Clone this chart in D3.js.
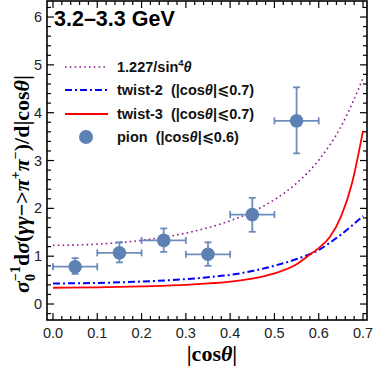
<!DOCTYPE html>
<html>
<head>
<meta charset="utf-8">
<script src="https://cdn.jsdelivr.net/npm/d3@7"></script>
<style>
  body { margin: 0; background: #fff; }
  svg { display: block; }
  text { white-space: pre; }
</style>
</head>
<body>
<div id="chart"></div>
<script>
// pion data points (|cos theta| bin centres)
var pionX = [0.05, 0.15, 0.25, 0.35, 0.45, 0.55];
var pionY = [0.78, 1.07, 1.33, 1.04, 1.87, 3.83];
var pionLo = [0.63, 0.87, 1.09, 0.80, 1.51, 3.15];
var pionHi = [0.96, 1.29, 1.58, 1.29, 2.22, 4.53];
var pionXErr = [0.05, 0.05, 0.05, 0.05, 0.05, 0.05];

// curves
var sinCos = [0, 0.05, 0.1, 0.15, 0.2, 0.25, 0.3, 0.35, 0.4, 0.45, 0.5, 0.55, 0.6, 0.65, 0.7];
var sinVal = [1.227, 1.233, 1.252, 1.284, 1.331, 1.397, 1.483, 1.595, 1.740, 1.928, 2.181, 2.526, 3.008, 3.705, 4.717];

var tw2Cos = [0, 0.1, 0.2, 0.3, 0.35, 0.4, 0.45, 0.5, 0.55, 0.6, 0.625, 0.65, 0.7];
var tw2Val = [0.43, 0.44, 0.47, 0.52, 0.56, 0.61, 0.69, 0.80, 0.94, 1.13, 1.28, 1.45, 1.84];

var tw3Cos = [0, 0.1, 0.2, 0.3, 0.35, 0.4, 0.45, 0.5, 0.55, 0.575, 0.6, 0.625, 0.65, 0.675, 0.7];
var tw3Val = [0.34, 0.35, 0.37, 0.40, 0.43, 0.47, 0.53, 0.64, 0.83, 1.00, 1.17, 1.40, 1.82, 2.52, 3.62];

var xTicks = [0, 0.1, 0.2, 0.3, 0.4, 0.5, 0.6, 0.7];
var yTicks = [0, 1, 2, 3, 4, 5, 6];

(function() {
  var W = 374, H = 374;
  var pl = 47, pr = 367, pt = 1, pb = 320;

  var svg = d3.select('#chart').append('svg')
      .attr('width', W).attr('height', H);

  var x = d3.scaleLinear().domain([-0.0135, 0.709]).range([pl, pr]);
  var y = d3.scaleLinear().domain([-0.334, 6.335]).range([pb, pt]);

  var ptColor = '#5e81b5';

  svg.append('clipPath').attr('id', 'clip')
    .append('rect').attr('x', pl).attr('y', pt)
    .attr('width', pr - pl).attr('height', pb - pt);

  var plot = svg.append('g').attr('clip-path', 'url(#clip)');

  function curve(xs, ys) {
    return d3.line()
      .x(function(d, i) { return x(xs[i]); })
      .y(function(d, i) { return y(ys[i]); })
      .curve(d3.curveMonotoneX)(xs);
  }

  plot.append('path').attr('d', curve(sinCos, sinVal))
    .attr('fill', 'none').attr('stroke', '#8a1c8c').attr('stroke-width', 1.6)
    .attr('stroke-dasharray', '1.6,3.2');

  plot.append('path').attr('d', curve(tw2Cos, tw2Val))
    .attr('fill', 'none').attr('stroke', '#0000ff').attr('stroke-width', 2)
    .attr('stroke-dasharray', '7,3,2,3');

  plot.append('path').attr('d', curve(tw3Cos, tw3Val))
    .attr('fill', 'none').attr('stroke', '#ff0000').attr('stroke-width', 1.8);

  // error bars
  var pts = pionX.map(function(v, i) {
    return { x: v, y: pionY[i], lo: pionLo[i], hi: pionHi[i], dx: pionXErr[i] };
  });
  var eb = plot.append('g').attr('stroke', ptColor).attr('stroke-width', 1.8)
    .attr('stroke-opacity', 0.9);
  pts.forEach(function(d) {
    eb.append('line').attr('x1', x(d.x - d.dx)).attr('x2', x(d.x + d.dx))
      .attr('y1', y(d.y)).attr('y2', y(d.y));
    eb.append('line').attr('x1', x(d.x)).attr('x2', x(d.x))
      .attr('y1', y(d.lo)).attr('y2', y(d.hi));
    [d.lo, d.hi].forEach(function(v) {
      eb.append('line').attr('x1', x(d.x) - 3.5).attr('x2', x(d.x) + 3.5)
        .attr('y1', y(v)).attr('y2', y(v));
    });
    [d.x - d.dx, d.x + d.dx].forEach(function(v) {
      eb.append('line').attr('x1', x(v)).attr('x2', x(v))
        .attr('y1', y(d.y) - 3.5).attr('y2', y(d.y) + 3.5);
    });
  });
  plot.selectAll('.pt').data(pts).enter().append('circle')
    .attr('class', 'pt')
    .attr('cx', function(d) { return x(d.x); })
    .attr('cy', function(d) { return y(d.y); })
    .attr('r', 6.8).attr('fill', ptColor);

  // frame + inward ticks on all sides
  var frame = svg.append('g').attr('stroke', '#000');
  frame.append('rect').attr('x', pl).attr('y', pt)
    .attr('width', pr - pl).attr('height', pb - pt)
    .attr('fill', 'none').attr('stroke-width', 1.6);

  d3.range(0, 36).forEach(function(k) {
    var v = k * 0.02;
    var len = (k % 5 === 0) ? 7 : 4;
    frame.append('line').attr('x1', x(v)).attr('x2', x(v))
      .attr('y1', pb).attr('y2', pb - len).attr('stroke-width', 1.2);
    frame.append('line').attr('x1', x(v)).attr('x2', x(v))
      .attr('y1', pt).attr('y2', pt + len).attr('stroke-width', 1.2);
  });
  d3.range(-1, 32).forEach(function(k) {
    var v = k * 0.2;
    var len = (((k % 5) + 5) % 5 === 0) ? 7 : 4;
    frame.append('line').attr('y1', y(v)).attr('y2', y(v))
      .attr('x1', pl).attr('x2', pl + len).attr('stroke-width', 1.2);
    frame.append('line').attr('y1', y(v)).attr('y2', y(v))
      .attr('x1', pr).attr('x2', pr - len).attr('stroke-width', 1.2);
  });

  var tickFont = '"Liberation Sans", Arial, sans-serif';
  svg.selectAll('.xt').data(xTicks).enter().append('text')
    .attr('x', function(d) { return x(d); }).attr('y', pb + 18)
    .attr('text-anchor', 'middle').attr('font-family', tickFont)
    .attr('font-size', 14.5).attr('fill', '#222')
    .text(function(d) { return d3.format('.1f')(d); });
  svg.selectAll('.yt').data(yTicks).enter().append('text')
    .attr('x', pl - 5).attr('y', function(d) { return y(d) + 5; })
    .attr('text-anchor', 'end').attr('font-family', tickFont)
    .attr('font-size', 14.5).attr('fill', '#222')
    .text(function(d) { return d; });

  // axis labels
  var serif = '"Liberation Serif", "Times New Roman", serif';
  var xl = svg.append('text').attr('x', (pl + pr) / 2 + 5).attr('y', 361)
    .attr('text-anchor', 'middle').attr('font-family', serif)
    .attr('font-weight', 'bold').attr('font-size', 22);
  xl.append('tspan').text('|cos');
  xl.append('tspan').attr('font-style', 'italic').text('θ');
  xl.append('tspan').text('|');

  var yl = svg.append('text')
    .attr('transform', 'translate(29,184) rotate(-90)')
    .attr('text-anchor', 'middle').attr('font-family', serif)
    .attr('font-weight', 'bold').attr('font-size', 22);
  yl.append('tspan').attr('font-style', 'italic').text('σ');
  yl.append('tspan').attr('font-size', 14).attr('dy', 6).text('0');
  yl.append('tspan').attr('font-size', 14).attr('dy', -15).attr('dx', -7).text('−1');
  yl.append('tspan').attr('dy', 9).text('d');
  yl.append('tspan').attr('font-style', 'italic').text('σ');
  yl.append('tspan').text('(');
  yl.append('tspan').attr('font-style', 'italic').text('γγ');
  yl.append('tspan').text('−>');
  yl.append('tspan').attr('font-style', 'italic').text('π');
  yl.append('tspan').attr('font-size', 14).attr('dy', -9).text('+');
  yl.append('tspan').attr('font-style', 'italic').attr('dy', 9).text('π');
  yl.append('tspan').attr('font-size', 14).attr('dy', -9).text('−');
  yl.append('tspan').attr('dy', 9).text(')/d|cos');
  yl.append('tspan').attr('font-style', 'italic').text('θ');
  yl.append('tspan').text('|');

  // title
  svg.append('text').attr('x', 54).attr('y', 26)
    .attr('font-family', tickFont).attr('font-weight', 'bold')
    .attr('font-size', 21.5).text('3.2–3.3 GeV');

  // legend
  var legFont = '"Liberation Sans", Arial, "DejaVu Sans", sans-serif';
  var legItems = [
    { y: 67, type: 'line', color: '#8a1c8c', dash: '1.6,3.2', w: 1.6,
      parts: [['1.227/sin', ''], ['4', 'sup'], ['θ', 'it']] },
    { y: 90, type: 'line', color: '#0000ff', dash: '7,3,2,3', w: 2,
      parts: [['twist-2  (|cos', ''], ['θ', 'it'], ['|⩽0.7)', '']] },
    { y: 114, type: 'line', color: '#ff0000', dash: null, w: 1.8,
      parts: [['twist-3  (|cos', ''], ['θ', 'it'], ['|⩽0.7)', '']] },
    { y: 137, type: 'pt', color: ptColor,
      parts: [['pion  (|cos', ''], ['θ', 'it'], ['|⩽0.6)', '']] }
  ];
  var leg = svg.append('g');
  legItems.forEach(function(it) {
    if (it.type === 'line') {
      var l = leg.append('line').attr('x1', 65).attr('x2', 108)
        .attr('y1', it.y).attr('y2', it.y)
        .attr('stroke', it.color).attr('stroke-width', it.w);
      if (it.dash) l.attr('stroke-dasharray', it.dash);
    } else {
      leg.append('circle').attr('cx', 86).attr('cy', it.y).attr('r', 7)
        .attr('fill', it.color);
    }
    var t = leg.append('text').attr('x', 117).attr('y', it.y + 5)
      .attr('font-family', legFont).attr('font-weight', 'bold')
      .attr('font-size', 14.5).attr('fill', '#111');
    var shifted = false;
    it.parts.forEach(function(p) {
      var s = t.append('tspan').text(p[0]);
      if (p[1] === 'sup') { s.attr('font-size', 9.5).attr('dy', -6); shifted = true; }
      else if (shifted) { s.attr('dy', 6); shifted = false; }
      if (p[1] === 'it') s.attr('font-style', 'italic');
    });
  });
})();
</script>
</body>
</html>
